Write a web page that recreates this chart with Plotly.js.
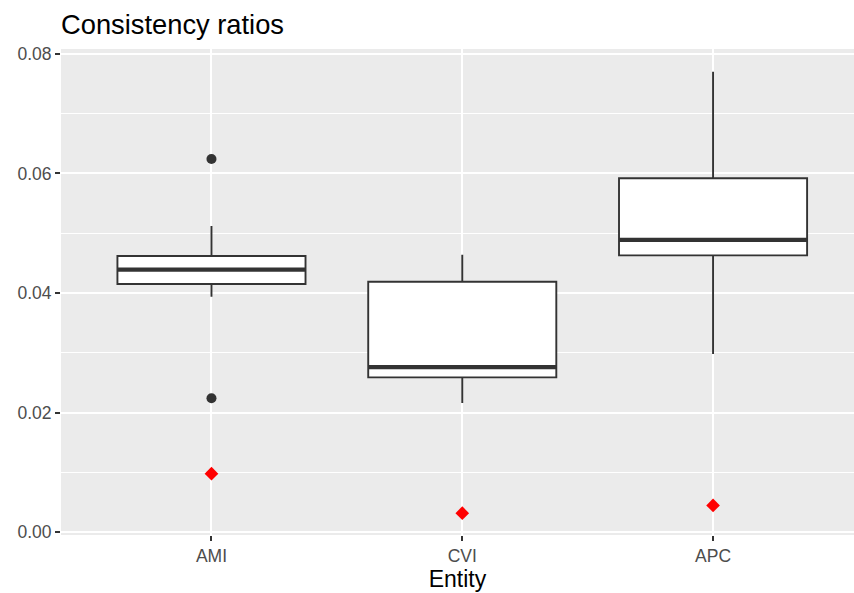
<!DOCTYPE html>
<html>
<head>
<meta charset="utf-8">
<script src="https://cdn.plot.ly/plotly-3.0.1.min.js"></script>
<style>html,body{margin:0;padding:0;overflow:hidden;background:#fff}</style>
</head>
<body>
<div id="chart" style="width:854px;height:593px"></div>
<script>
// Data
const categories = ["AMI", "CVI", "APC"];
const positions = [1, 2, 3];
const q1 = [0.0415, 0.0259, 0.0463];
const medians = [0.0439, 0.0276, 0.0489];
const q3 = [0.0462, 0.0419, 0.0592];
const lowerWhisker = [0.0394, 0.0216, 0.0298];
const upperWhisker = [0.0512, 0.0464, 0.0770];
const outlierCategory = [1, 1];
const outlierValues = [0.0624, 0.0224];
const markerValues = [0.0098, 0.0032, 0.0045];
const yTicks = [0, 0.02, 0.04, 0.06, 0.08];
const yTickLabels = ["0.00", "0.02", "0.04", "0.06", "0.08"];

const boxWidth = 0.75;
const dark = "#333333";

const medX = [], medY = [];
positions.forEach((p, i) => {
  medX.push(p - boxWidth / 2, p + boxWidth / 2, null);
  medY.push(medians[i], medians[i], null);
});

const traces = [
  {
    type: "box",
    x: positions,
    q1: q1, median: medians, q3: q3,
    lowerfence: lowerWhisker, upperfence: upperWhisker,
    boxpoints: false,
    width: boxWidth,
    whiskerwidth: 0,
    fillcolor: "#FFFFFF",
    line: {color: dark, width: 1.9},
    hoverinfo: "skip",
    showlegend: false
  },
  {
    type: "scatter", mode: "lines",
    x: medX, y: medY,
    line: {color: dark, width: 4.2},
    hoverinfo: "skip", showlegend: false
  },
  {
    type: "scatter", mode: "markers",
    x: outlierCategory, y: outlierValues,
    marker: {symbol: "circle", size: 10, color: dark},
    showlegend: false
  },
  {
    type: "scatter", mode: "markers",
    x: positions, y: markerValues,
    marker: {symbol: "diamond", size: 10.5, color: "#FF0000"},
    showlegend: false
  }
];

const layout = {
  width: 854, height: 593,
  margin: {l: 61, r: 0, t: 49, b: 58, pad: 0},
  paper_bgcolor: "#FFFFFF",
  plot_bgcolor: "#EBEBEB",
  font: {family: "Liberation Sans, Arial, sans-serif", color: "#4D4D4D", size: 17.5},
  title: {
    text: "Consistency ratios",
    font: {family: "Liberation Sans, Arial, sans-serif", size: 27.3, color: "#000000"},
    x: 61 / 854, xref: "container", xanchor: "left",
    y: 0.9589, yref: "container", yanchor: "middle"
  },
  showlegend: false,
  xaxis: {
    range: [0.4, 3.562],
    tickmode: "array", tickvals: positions, ticktext: categories,
    showgrid: true, gridcolor: "#FFFFFF", gridwidth: 2,
    zeroline: false, showline: false,
    ticks: "outside", ticklen: 5, tickwidth: 2, tickcolor: dark,
    tickfont: {size: 17.5, color: "#4D4D4D"},
    title: {text: "Entity", font: {size: 23, color: "#000000"}, standoff: 3},
    automargin: false
  },
  yaxis: {
    range: [-0.00045, 0.0808],
    tickmode: "array", tickvals: yTicks, ticktext: yTickLabels,
    showgrid: true, gridcolor: "#FFFFFF", gridwidth: 2,
    minor: {tickmode: "array", tickvals: [0.01, 0.03, 0.05, 0.07], showgrid: true, gridcolor: "#FFFFFF", gridwidth: 1, ticks: ""},
    zeroline: false, showline: false,
    ticks: "outside", ticklen: 5, tickwidth: 2, tickcolor: dark,
    tickfont: {size: 17.5, color: "#4D4D4D"},
    automargin: false
  }
};

Plotly.newPlot("chart", traces, layout, {displayModeBar: false, staticPlot: true});
</script>
</body>
</html>
